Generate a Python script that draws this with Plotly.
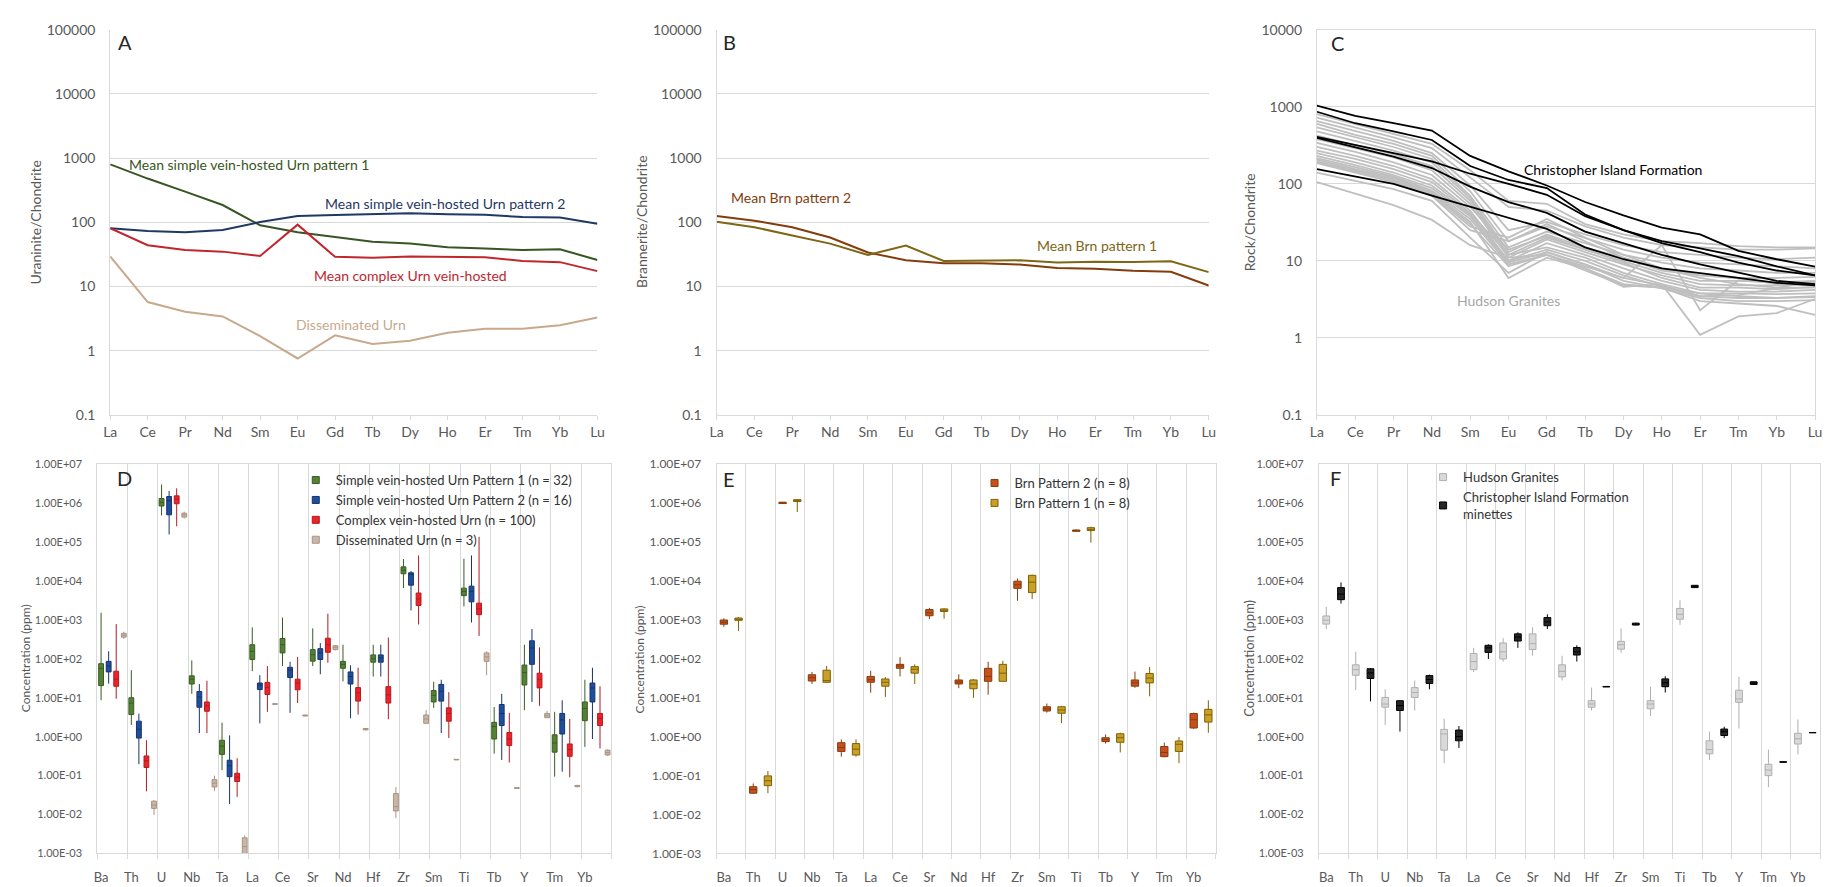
import plotly.graph_objects as go

W, H = 1830, 887
FONT = "Lato"
GRID = "#D9D9D9"
TICK = "#595959"

# ---------------- chondrite-normalised REE patterns ----------------
ree = ["La", "Ce", "Pr", "Nd", "Sm", "Eu", "Gd", "Tb", "Dy", "Ho", "Er", "Tm", "Yb", "Lu"]

urn_simple_p1 = [800, 480, 300, 186, 90, 70, 59, 50, 47, 41, 39, 37, 38, 26]
urn_simple_p2 = [81, 73, 70, 76, 101, 125, 130, 134, 139, 134, 131, 121, 119, 95]
urn_complex = [81, 44, 37, 35, 30, 92, 29, 28, 29.5, 28.8, 28.5, 25, 24, 17.4]
urn_dissem = [29.5, 5.75, 4.05, 3.43, 1.7, 0.76, 1.74, 1.28, 1.44, 1.91, 2.2, 2.2, 2.5, 3.31]

brn_p2 = [126, 106, 84, 58, 34, 25.6, 23, 23, 22, 19.5, 18.9, 17.6, 17, 10.4]
brn_p1 = [102, 84, 62.5, 46.6, 31, 43.4, 25, 25, 25.6, 23.6, 24.4, 24.2, 24.7, 16.8]

christopher_island = [
    [1030, 760, 610, 490, 230, 145, 95, 58, 39, 27, 22, 13.5, 10.5, 8.4],
    [860, 610, 480, 370, 170, 112, 88, 40, 25, 18, 14.5, 11.5, 8.5, 6.5],
    [405, 320, 250, 195, 135, 100, 72, 38, 25, 17, 13, 9.5, 7.5, 6.5],
    [395, 300, 225, 160, 92, 58, 42, 24, 17, 12, 9, 7, 5.5, 5.0],
    [155, 125, 100, 70, 50, 36, 26, 15, 10.5, 8, 7, 6, 5.2, 4.8],
]

hudson_granites = [
    [800, 600, 450, 330, 150, 60, 55, 30, 22, 18, 17, 15.5, 15, 15],
    [720, 540, 400, 290, 120, 50, 45, 28, 20, 16, 15, 14, 14, 14.5],
    [650, 480, 360, 250, 95, 25, 32, 22, 16, 13, 12, 11, 10.5, 11],
    [600, 430, 330, 230, 80, 18, 28, 20, 14, 11, 9.5, 9, 8.5, 8],
    [540, 400, 300, 210, 70, 15, 24, 17, 12, 9.5, 8, 7.5, 7, 7],
    [480, 360, 270, 190, 65, 13, 22, 15, 11, 8, 6.5, 6, 6, 6.2],
    [420, 320, 240, 170, 60, 12, 20, 14, 10, 7, 5.5, 5.5, 5.3, 5.5],
    [380, 290, 220, 150, 55, 11, 19, 13, 9, 6.5, 5, 4.8, 4.8, 5],
    [340, 260, 190, 130, 50, 14, 21, 14, 9.5, 6, 4.5, 4.5, 4.3, 4.6],
    [300, 230, 170, 115, 45, 10, 17, 12, 8, 5.5, 4.2, 4.0, 4.0, 4.2],
    [270, 210, 155, 105, 42, 12, 15, 11, 7, 5, 3.8, 3.8, 3.7, 3.8],
    [250, 190, 140, 95, 40, 10, 14, 10, 6.5, 4.6, 3.5, 3.3, 3.3, 3.4],
    [230, 175, 130, 88, 38, 9.5, 13, 9, 5.5, 4.4, 3.3, 3.0, 3.0, 3.1],
    [215, 165, 125, 82, 35, 9, 12, 8.5, 6, 16, 2.3, 5.6, 5.2, 5.3],
    [205, 155, 120, 78, 32, 6, 11, 8, 4.6, 5.0, 1.1, 1.9, 2.1, 3.2],
    [195, 150, 115, 75, 30, 8.5, 12, 7.5, 4.8, 4.5, 3.0, 2.8, 2.6, 2.0],
    [190, 145, 110, 72, 28, 20, 35, 20, 12, 8, 6, 5, 4.5, 4.5],
    [185, 140, 105, 70, 25, 18, 30, 18, 11, 7.5, 6.5, 6, 5, 4.8],
    [140, 110, 85, 60, 20, 7, 13, 9, 6, 4.8, 3.5, 3.6, 4.5, 5.5],
    [105, 75, 53, 34, 16, 11, 12, 8, 5, 4.5, 3.8, 3.5, 3.3, 3.5],
]

# ---------------- trace-element concentrations (ppm) ----------------
# each row: (lower whisker, Q1, median, Q3, upper whisker)
elements = ["Ba", "Th", "U", "Nb", "Ta", "La", "Ce", "Sr", "Nd", "Hf", "Zr", "Sm", "Ti", "Tb", "Y", "Tm", "Yb"]

urn_p1_stats = [
    (8.6, 20.5, 57, 75, 1530), (2.0, 3.7, 7.3, 10, 51), (4.8e5, 8.4e5, 1.04e6, 1.31e6, 3.0e6),
    (12.6, 22.5, 30, 36.5, 91), (0.139, 0.35, 0.57, 0.81, 2.3), (48, 96, 156, 230, 641),
    (65, 142, 230, 332, 1145), (65, 87, 128, 172, 605), (26.3, 57, 72, 86, 230),
    (35, 82, 100, 126, 230), (6530, 15300, 18900, 23000, 36500), (5.5, 7.8, 11.5, 15.3, 25.8),
    (2210, 4190, 5380, 6530, 37200), (0.366, 0.87, 1.82, 2.34, 5.8), (4.8, 21.3, 44, 69, 230),
    (0.094, 0.40, 0.69, 1.12, 4.35), (0.548, 2.58, 5.3, 7.8, 29),
]
urn_p2_stats = [
    (23, 46, 65, 86, 156), (0.197, 0.92, 1.56, 2.5, 3.9), (1.56e5, 4.98e5, 1.15e6, 1.47e6, 2.05e6),
    (1.24, 5.7, 10.4, 14.5, 22.5), (0.0186, 0.094, 0.179, 0.248, 1.08), (2.2, 16.2, 21.3, 23.9, 38),
    (4.1, 33, 51, 60.5, 84), (40, 96, 142, 182, 253), (2.96, 22.5, 35, 46, 68),
    (35, 82, 106, 126, 230), (1750, 7780, 14700, 16200, 17900), (1.24, 8.2, 14.7, 22, 29),
    (857, 2900, 5380, 7340, 45200), (0.253, 1.93, 3.95, 6.7, 12.6), (7.8, 72, 189, 290, 582),
    (0.126, 1.17, 2.69, 3.95, 8.6), (0.87, 7.8, 17.9, 23.9, 59),
]
urn_complex_stats = [
    (9.4, 19.7, 30, 48, 778), (0.0395, 0.162, 0.24, 0.32, 0.81), (2.53e5, 9.6e5, 1.26e6, 1.53e6, 2.39e6),
    (1.24, 4.5, 6.2, 7.8, 27.4), (0.0284, 0.0706, 0.091, 0.115, 0.279), (4.35, 12.1, 18.6, 24.8, 65),
    (7.3, 16, 24, 30, 112), (79, 147, 230, 338, 1445), (3.7, 8.2, 13.4, 18.2, 59),
    (2.8, 7.3, 11.9, 19.3, 352), (762, 2340, 3450, 4890, 45200), (0.92, 2.5, 3.95, 5.5, 13.9),
    (387, 1360, 1930, 2690, 136000), (0.217, 0.59, 0.87, 1.28, 4.1), (6.2, 17.9, 30, 42.7, 197),
    (0.091, 0.313, 0.47, 0.65, 2.85), (0.5, 1.93, 2.96, 3.95, 19.7),
]
urn_dissem_stats = [
    (326, 359, 403, 452, 498), (0.0098, 0.0144, 0.0175, 0.0221, 0.0234), (4.0e5, 4.36e5, 4.98e5, 5.5e5, 6.0e5),
    (0.04, 0.051, 0.064, 0.079, 0.1), (0.001, 0.001, 0.0015, 0.00253, 0.0029), (6.7, 6.8, 6.9, 7.0, 7.1),
    (3.35, 3.4, 3.5, 3.6, 3.65), (165, 172, 197, 217, 225), (1.45, 1.5, 1.56, 1.62, 1.68),
    (0.0081, 0.0124, 0.0159, 0.0345, 0.051), (2.2, 2.2, 2.85, 3.6, 4.8), (0.25, 0.254, 0.258, 0.262, 0.266),
    (38, 86, 112, 142, 156), (0.046, 0.047, 0.048, 0.049, 0.05), (3.0, 3.07, 3.45, 3.95, 4.6),
    (0.05, 0.052, 0.054, 0.056, 0.058), (0.32, 0.338, 0.387, 0.452, 0.47),
]

brn_p2_stats = [
    (660, 773, 867, 993, 1095), (0.034, 0.0354, 0.0438, 0.052, 0.063), (9.6e5, 9.7e5, 1.0e6, 1.05e6, 1.07e6),
    (22.6, 26.9, 32.7, 38.9, 46), (0.307, 0.418, 0.527, 0.70, 0.85), (13.5, 25, 29, 35.3, 49),
    (35.3, 57, 65.5, 72, 110), (1050, 1275, 1520, 1840, 2030), (17.6, 22.6, 25.4, 28.6, 40),
    (12, 26.4, 35.3, 57, 84), (3100, 6440, 7960, 9840, 11500), (4.15, 4.57, 5.23, 5.87, 7.1),
    (1.85e5, 1.88e5, 1.95e5, 2.03e5, 2.1e5), (0.664, 0.746, 0.84, 0.94, 1.14), (18, 19.8, 24, 28.6, 47),
    (0.296, 0.307, 0.394, 0.558, 0.705), (1.58, 1.67, 2.72, 3.92, 4.15),
]
brn_p1_stats = [
    (515, 973, 1030, 1115, 1180), (0.0354, 0.0552, 0.0738, 0.0984, 0.131), (5.87e5, 1.09e6, 1.15e6, 1.22e6, 1.27e6),
    (24, 24.9, 27.5, 51, 65.5), (0.307, 0.338, 0.478, 0.664, 0.85), (10.5, 19.8, 25, 30.3, 34),
    (22.6, 42.8, 54, 63, 72), (1070, 1640, 1770, 1910, 2030), (9.9, 17, 22.6, 28.6, 30.3),
    (26.4, 26.4, 42.8, 72, 89), (3410, 5010, 9290, 13900, 14500), (2.24, 4.0, 4.84, 5.87, 6.2),
    (9.6e4, 1.96e5, 2.11e5, 2.33e5, 2.47e5), (0.394, 0.718, 0.94, 1.19, 1.26), (10.9, 24, 32, 42, 61.7),
    (0.209, 0.418, 0.64, 0.776, 0.977), (1.26, 2.37, 3.62, 5.04, 8.6),
]

hudson_stats = [
    (583, 778, 982, 1259, 2160), (15.8, 37.8, 52.5, 70, 151), (1.98, 5.7, 6.9, 10.2, 16.5),
    (4.7, 10.2, 13.6, 18.2, 27.8), (0.208, 0.45, 1.18, 1.54, 2.91), (45.8, 52.5, 85, 137, 191),
    (85, 99, 151, 255, 340), (120, 173, 245, 437, 642), (27.8, 34.3, 47.6, 70, 120),
    (4.7, 5.7, 6.9, 8.4, 18.2), (143, 177, 231, 281, 606), (3.4, 5.2, 6.9, 8.4, 19.2),
    (749, 1040, 1388, 1964, 3180), (0.252, 0.363, 0.467, 0.785, 1.35), (1.63, 7.6, 9.3, 15.6, 34.3),
    (0.051, 0.1, 0.139, 0.196, 0.467), (0.35, 0.648, 0.883, 1.22, 2.75),
]
christopher_stats = [
    (2620, 3300, 4580, 6730, 9160), (8.1, 31.2, 43.3, 55.6, 57.8), (1.35, 4.7, 6.3, 8.4, 8.4),
    (16.5, 23.3, 29.4, 37, 39.3), (0.514, 0.785, 1.01, 1.48, 1.87), (99, 146, 191, 222, 236),
    (191, 286, 360, 437, 481), (583, 707, 891, 1146, 1388), (85, 125, 151, 195, 222),
    (18.9, 19.0, 19.2, 19.5, 19.6), (720, 735, 779, 824, 840), (13.6, 19.2, 24.3, 30.5, 35.6),
    (6600, 6730, 7200, 7710, 7800), (0.916, 1.07, 1.35, 1.57, 1.8), (21.5, 22, 23.8, 25.7, 26.5),
    (0.22, 0.221, 0.224, 0.227, 0.228), (1.25, 1.26, 1.27, 1.28, 1.29),
]


def xd(a, b):
    return [a / W, b / W]


def yd(top, bottom):
    return [1 - bottom / H, 1 - top / H]


def px(x):
    return x / W


def py(y):
    return 1 - y / H


fig = go.Figure()

# ---- top row: line patterns ----
ree_x = list(range(len(ree)))


def add_line(values, color, ax, width=2.0):
    fig.add_trace(go.Scatter(x=ree_x, y=values, mode="lines", line=dict(color=color, width=width),
                             showlegend=False, hoverinfo="skip", xaxis="x" + ax, yaxis="y" + ax))


add_line(urn_simple_p1, "#375623", "")
add_line(urn_simple_p2, "#1F3864", "")
add_line(urn_complex, "#C0262D", "")
add_line(urn_dissem, "#C8A98C", "")

add_line(brn_p2, "#843C0C", "2")
add_line(brn_p1, "#7F6514", "2")

for row in hudson_granites:
    add_line(row, "#BFBFBF", "3", 1.8)
for row in christopher_island:
    add_line(row, "#000000", "3", 1.8)

# ---- bottom row: box plots ----
n_el = len(elements)


def add_boxes(stats, offset, width, fill, edge, ax, name, legend):
    lo, q1, med, q3, hi = (list(c) for c in zip(*stats))
    fig.add_trace(go.Box(
        x=[i + offset for i in range(n_el)], lowerfence=lo, q1=q1, median=med, q3=q3, upperfence=hi,
        width=width, whiskerwidth=0, fillcolor=fill, line=dict(color=edge, width=1),
        boxpoints=False, showlegend=False, hoverinfo="skip", xaxis="x" + ax, yaxis="y" + ax))
    fig.add_trace(go.Scatter(
        x=[None], y=[None], mode="markers", name=name, legend=legend,
        marker=dict(symbol="square", size=7, color=fill, line=dict(color=edge, width=1)),
        xaxis="x" + ax, yaxis="y" + ax))


add_boxes(urn_p1_stats, 0.125, 0.16, "#548235", "#3A5C24", "4", "Simple vein-hosted Urn Pattern 1 (n = 32)", "legend")
add_boxes(urn_p2_stats, 0.375, 0.16, "#1F4E9C", "#17346A", "4", "Simple vein-hosted Urn Pattern 2 (n = 16)", "legend")
add_boxes(urn_complex_stats, 0.625, 0.16, "#EE2229", "#B01C20", "4", "Complex vein-hosted Urn (n = 100)", "legend")
add_boxes(urn_dissem_stats, 0.875, 0.16, "#C9B6A6", "#A89484", "4", "Disseminated Urn (n = 3)", "legend")

add_boxes(brn_p2_stats, 0.25, 0.25, "#C9501C", "#843C0C", "5", "Brn Pattern 2 (n = 8)", "legend2")
add_boxes(brn_p1_stats, 0.75, 0.25, "#C9A02A", "#7F6000", "5", "Brn Pattern 1 (n = 8)", "legend2")

add_boxes(hudson_stats, 0.25, 0.23, "#D9D9D9", "#AFAFAF", "6", "Hudson Granites", "legend3")
add_boxes(christopher_stats, 0.75, 0.23, "#262626", "#000000", "6",
          "Christopher Island Formation<br>minettes", "legend3")

# ---- axes ----
tickfont_top = dict(family=FONT, size=14, color=TICK)


def top_axes(xdom, ymax):
    xa = dict(domain=xdom, range=[0, 13], tickmode="array", tickvals=ree_x, ticktext=ree,
              showgrid=False, zeroline=False, showline=True, linecolor=GRID, linewidth=1,
              ticks="outside", ticklen=4, tickcolor=GRID, tickfont=tickfont_top)
    vals = [10 ** k for k in range(-1, ymax + 1)]
    labels = ["0.1"] + [str(int(v)) for v in vals[1:]]
    ya = dict(domain=yd(21, 414), type="log", range=[-1, ymax], tickmode="array", tickvals=vals,
              ticktext=labels, showgrid=True, gridcolor=GRID, gridwidth=1, zeroline=False,
              showline=True, linecolor=GRID, linewidth=1, ticks="", ticklabelstandoff=11,
              tickfont=tickfont_top)
    return xa, ya


def bottom_axes(xdom, offset, ysize):
    xa = dict(domain=xdom, range=[0, n_el], tickmode="array",
              tickvals=[i + offset for i in range(n_el)], ticktext=elements,
              showgrid=False, zeroline=False, showline=True, mirror=True, linecolor=GRID, linewidth=1,
              ticks="", ticklabelstandoff=12, tickfont=dict(family=FONT, size=13, color=TICK),
              minor=dict(tickmode="array", tickvals=list(range(n_el + 1)), showgrid=True,
                         gridcolor=GRID, gridwidth=1, ticks="outside", ticklen=5, tickcolor=GRID))
    vals = [10 ** k for k in range(-3, 8)]
    labels = ["1.00E-03", "1.00E-02", "1.00E-01", "1.00E+00", "1.00E+01", "1.00E+02",
              "1.00E+03", "1.00E+04", "1.00E+05", "1.00E+06", "1.00E+07"]
    ya = dict(domain=yd(464, 861), type="log", range=[-3, 7], tickmode="array", tickvals=vals,
              ticktext=labels, showgrid=False, zeroline=False, showline=True, mirror=True,
              linecolor=GRID, linewidth=1, ticks="", ticklabelstandoff=12,
              tickfont=dict(family=FONT, size=ysize, color=TICK))
    return xa, ya


xa1, ya1 = top_axes(xd(104, 595), 5)
xa2, ya2 = top_axes(xd(715, 1211), 5)
xa3, ya3 = top_axes(xd(1320, 1822), 4)
xa3["mirror"] = True
ya3["mirror"] = True
xa4, ya4 = bottom_axes(xd(91, 609), 0.125, 11)
xa5, ya5 = bottom_axes(xd(715, 1218), 0.25, 12)
xa6, ya6 = bottom_axes(xd(1322, 1827), 0.25, 11)

axes = {}
for k, (xa, ya) in enumerate([(xa1, ya1), (xa2, ya2), (xa3, ya3), (xa4, ya4), (xa5, ya5), (xa6, ya6)], start=1):
    sfx = "" if k == 1 else str(k)
    xa["anchor"] = "y" + sfx
    ya["anchor"] = "x" + sfx
    axes["xaxis" + sfx] = xa
    axes["yaxis" + sfx] = ya

# ---- text ----
annotations = []


def text(x, y, s, size, color, anchor="left", angle=0):
    annotations.append(dict(x=px(x), y=py(y), xref="paper", yref="paper", text=s, showarrow=False,
                            xanchor=anchor, yanchor="middle", textangle=angle,
                            font=dict(family=FONT, size=size, color=color)))


for letter, lx, ly in [("A", 110, 34), ("B", 720, 34), ("C", 1332, 35),
                       ("D", 109, 478), ("E", 720, 479), ("F", 1331, 478)]:
    text(lx, ly, letter, 20, "#262626")

text(29, 217, "Uraninite/Chondrite", 14, TICK, "center", -90)
text(640, 217, "Brannerite/Chondrite", 14, TICK, "center", -90)
text(1252, 217, "Rock/Chondrite", 14, TICK, "center", -90)
text(18, 662, "Concentration (ppm)", 12, TICK, "center", -90)
text(637, 663, "Concentration (ppm)", 12, TICK, "center", -90)
text(1252, 662, "Concentration (ppm)", 13, TICK, "center", -90)

text(121, 159, "Mean simple vein-hosted Urn pattern 1", 14, "#375623")
text(318, 198, "Mean simple vein-hosted Urn pattern 2", 14, "#1F3864")
text(307, 272, "Mean complex Urn vein-hosted", 14, "#C0262D")
text(289, 322, "Disseminated Urn", 14, "#C8A98C")
text(728, 192, "Mean Brn pattern 2", 14, "#843C0C")
text(1036, 241, "Mean Brn pattern 1", 14, "#7F6514")
text(1527, 164, "Christopher Island Formation", 14, "#000000")
text(1459, 297, "Hudson Granites", 14, "#A6A6A6")

legend_common = dict(xanchor="left", yanchor="top", bgcolor="rgba(0,0,0,0)", borderwidth=0,
                     itemwidth=30, tracegroupgap=0, font=dict(family=FONT, size=13, color="#333333"))

fig.update_layout(
    width=W, height=H, margin=dict(l=0, r=0, t=0, b=0),
    paper_bgcolor="white", plot_bgcolor="white",
    font=dict(family=FONT, color=TICK),
    boxmode="overlay",
    legend=dict(x=px(291), y=py(465), **legend_common),
    legend2=dict(x=px(975), y=py(468), **legend_common),
    legend3=dict(x=px(1427), y=py(462), **legend_common),
    annotations=annotations,
    **axes,
)

fig.write_html("out.html")
